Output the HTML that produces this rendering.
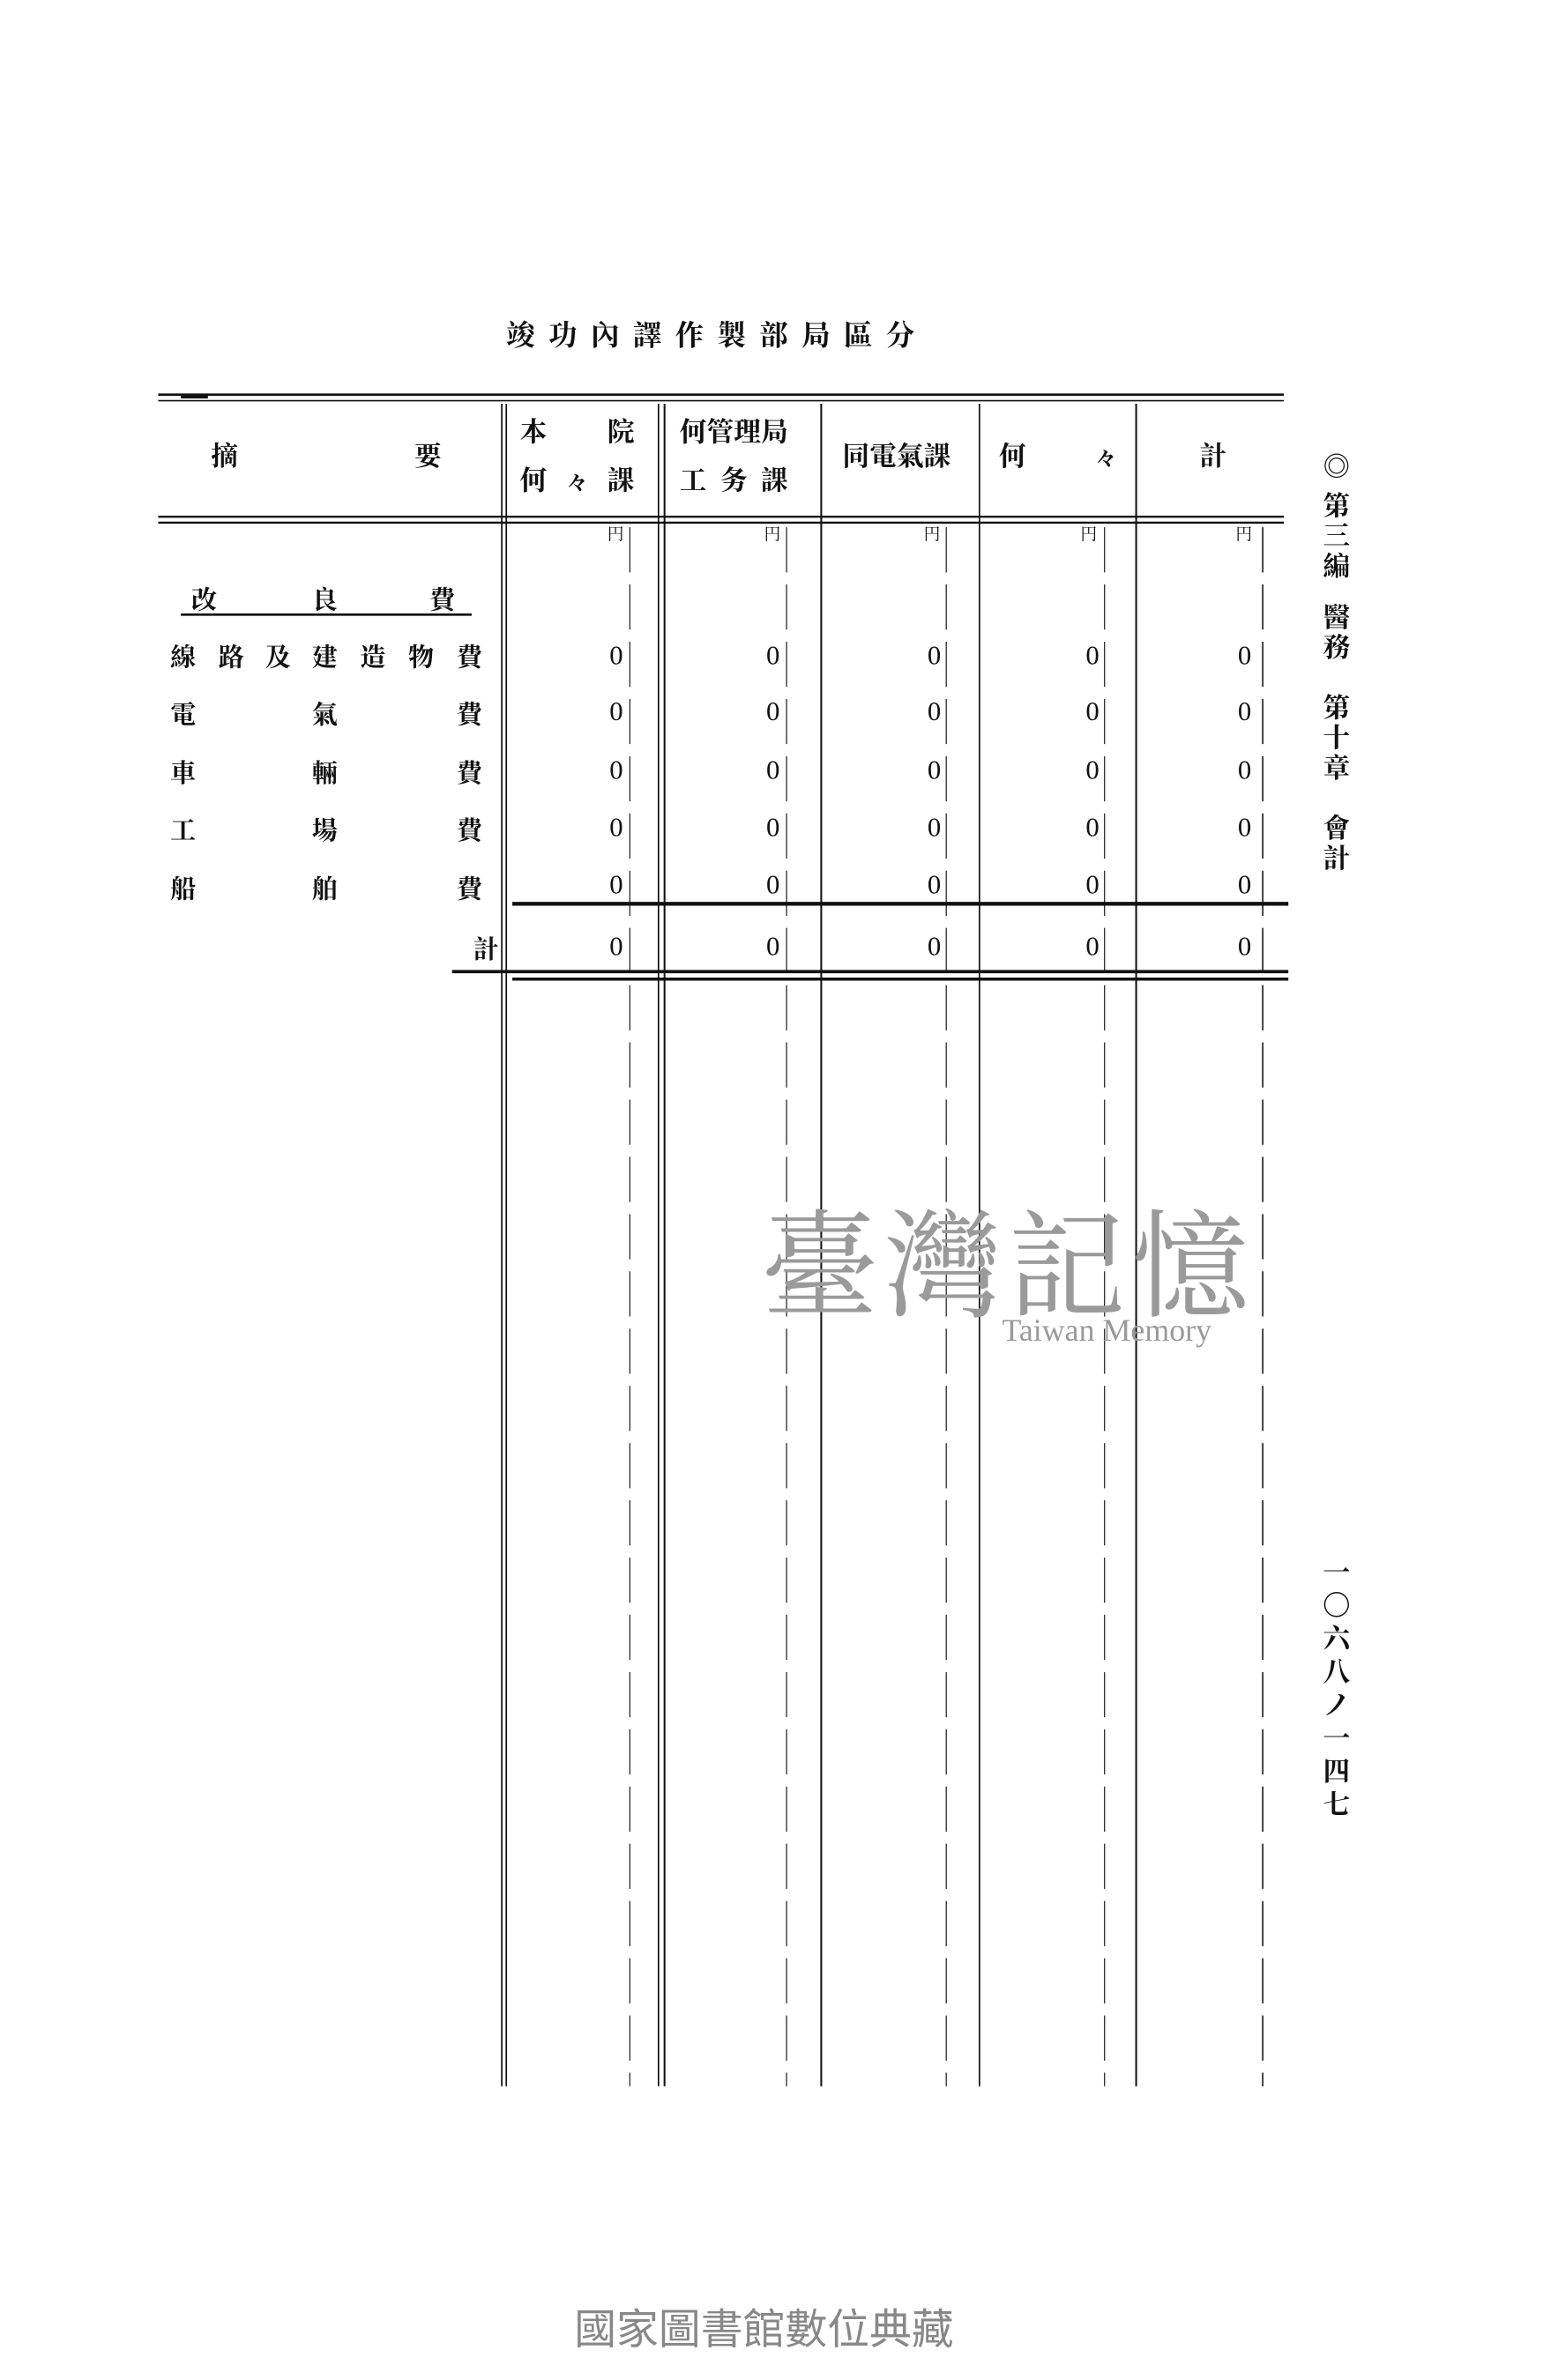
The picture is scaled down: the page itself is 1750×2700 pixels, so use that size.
<!DOCTYPE html>
<html><head><meta charset="utf-8"><style>
html,body{margin:0;padding:0;background:#fff;}
svg{display:block;}
text{font-family:"Liberation Serif","Noto Serif CJK SC","Noto Sans CJK TC",serif;fill:#111;}
</style></head><body>
<svg width="1750" height="2700" viewBox="0 0 1024 1580" preserveAspectRatio="none" xmlns="http://www.w3.org/2000/svg">
<rect width="1024" height="1580" fill="#fff"/>
<text x="476" y="229" font-size="19" font-weight="bold" text-anchor="middle" letter-spacing="9">竣功內譯作製部局區分</text>
<g stroke="#111">
<line x1="105" y1="262" x2="852" y2="262" stroke-width="1.6"/>
<line x1="105" y1="266" x2="852" y2="266" stroke-width="1"/>
<line x1="120" y1="263" x2="138" y2="263" stroke-width="3"/>
<line x1="105" y1="343" x2="852" y2="343" stroke-width="1.4"/>
<line x1="105" y1="347" x2="852" y2="347" stroke-width="1.4"/>
<line x1="333" y1="268" x2="333" y2="1385" stroke-width="1"/>
<line x1="336" y1="268" x2="336" y2="1385" stroke-width="1"/>
<line x1="437" y1="268" x2="437" y2="1385" stroke-width="1"/>
<line x1="441" y1="268" x2="441" y2="1385" stroke-width="1.2"/>
<line x1="545" y1="268" x2="545" y2="1385" stroke-width="1.2"/>
<line x1="650" y1="268" x2="650" y2="1385" stroke-width="1"/>
<line x1="754" y1="268" x2="754" y2="1385" stroke-width="1.2"/>
<line x1="838" y1="350" x2="838" y2="1385" stroke-width="0.9" stroke-dasharray="30 8"/>
<g stroke-width="0.8" stroke-dasharray="30 8" stroke="#333">
<line x1="418" y1="350" x2="418" y2="1385"/>
<line x1="522" y1="350" x2="522" y2="1385"/>
<line x1="628" y1="350" x2="628" y2="1385"/>
<line x1="733" y1="350" x2="733" y2="1385"/>
</g>
<line x1="340" y1="600" x2="855" y2="600" stroke-width="2.5"/>
<line x1="300" y1="645" x2="855" y2="645" stroke-width="2.2"/>
<line x1="340" y1="650" x2="855" y2="650" stroke-width="2"/>
<line x1="120" y1="408" x2="313" y2="408" stroke-width="1.6"/>
</g>
<g font-size="18" font-weight="bold">
<text x="140" y="309">摘</text><text x="275" y="309">要</text>
<text x="345" y="293">本</text><text x="403" y="293">院</text>
<text x="345" y="325">何</text><text x="376" y="325" font-size="14">々</text><text x="403" y="325">課</text>
<text x="451" y="293">何管理局</text>
<text x="451" y="325">工</text><text x="478" y="325">务</text><text x="505" y="325">課</text>
<text x="559" y="309">同電氣課</text>
<text x="663" y="309">何</text><text x="727" y="309" font-size="14">々</text>
<text x="796" y="309">計</text>
</g>
<g font-size="11">
<text x="403" y="358">円</text><text x="507" y="358">円</text><text x="613" y="358">円</text><text x="717" y="358">円</text><text x="820" y="358">円</text>
</g>
<g font-size="17" font-weight="bold">
<text x="127" y="404">改</text><text x="207" y="404">良</text><text x="285" y="404">費</text>
<text x="113" y="442">線</text><text x="145" y="442">路</text><text x="176" y="442">及</text><text x="207" y="442">建</text><text x="239" y="442">造</text><text x="271" y="442">物</text><text x="303" y="442">費</text>
<text x="113" y="480">電</text><text x="207" y="480">氣</text><text x="303" y="480">費</text>
<text x="113" y="519">車</text><text x="207" y="519">輛</text><text x="303" y="519">費</text>
<text x="113" y="557">工</text><text x="207" y="557">場</text><text x="303" y="557">費</text>
<text x="113" y="596">船</text><text x="207" y="596">舶</text><text x="303" y="596">費</text>
<text x="314" y="636">計</text>
</g>
<g font-size="18" text-anchor="middle">
<text x="409" y="441">0</text><text x="513" y="441">0</text><text x="620" y="441">0</text><text x="725" y="441">0</text><text x="826" y="441">0</text>
<text x="409" y="478">0</text><text x="513" y="478">0</text><text x="620" y="478">0</text><text x="725" y="478">0</text><text x="826" y="478">0</text>
<text x="409" y="517">0</text><text x="513" y="517">0</text><text x="620" y="517">0</text><text x="725" y="517">0</text><text x="826" y="517">0</text>
<text x="409" y="555">0</text><text x="513" y="555">0</text><text x="620" y="555">0</text><text x="725" y="555">0</text><text x="826" y="555">0</text>
<text x="409" y="593">0</text><text x="513" y="593">0</text><text x="620" y="593">0</text><text x="725" y="593">0</text><text x="826" y="593">0</text>
<text x="409" y="634">0</text><text x="513" y="634">0</text><text x="620" y="634">0</text><text x="725" y="634">0</text><text x="826" y="634">0</text>
</g>
<g font-size="18" font-weight="bold" text-anchor="middle">
<text x="887" y="316">◎</text>
<text x="887" y="342">第</text><text x="887" y="362">三</text><text x="887" y="382">編</text>
<text x="887" y="416">醫</text><text x="887" y="436">務</text>
<text x="887" y="476">第</text><text x="887" y="496">十</text><text x="887" y="516">章</text>
<text x="887" y="556">會</text><text x="887" y="576">計</text>
<text x="887" y="1050">一</text><text x="887" y="1072">〇</text><text x="887" y="1094">六</text><text x="887" y="1116">八</text><text x="887" y="1138">ノ</text><text x="887" y="1160">一</text><text x="887" y="1182">四</text><text x="887" y="1204">七</text>
</g>
<text x="505" y="868" font-size="78" style="fill:#9a9a9a" letter-spacing="4">臺灣記憶</text>
<text x="665" y="890" font-size="21" style="fill:#9a9a9a;font-family:'Liberation Serif',serif">Taiwan Memory</text>
<text x="507" y="1556" font-size="28" text-anchor="middle" style="fill:#888;font-family:'Liberation Sans','Noto Sans CJK TC',sans-serif">國家圖書館數位典藏</text>
</svg>
</body></html>
